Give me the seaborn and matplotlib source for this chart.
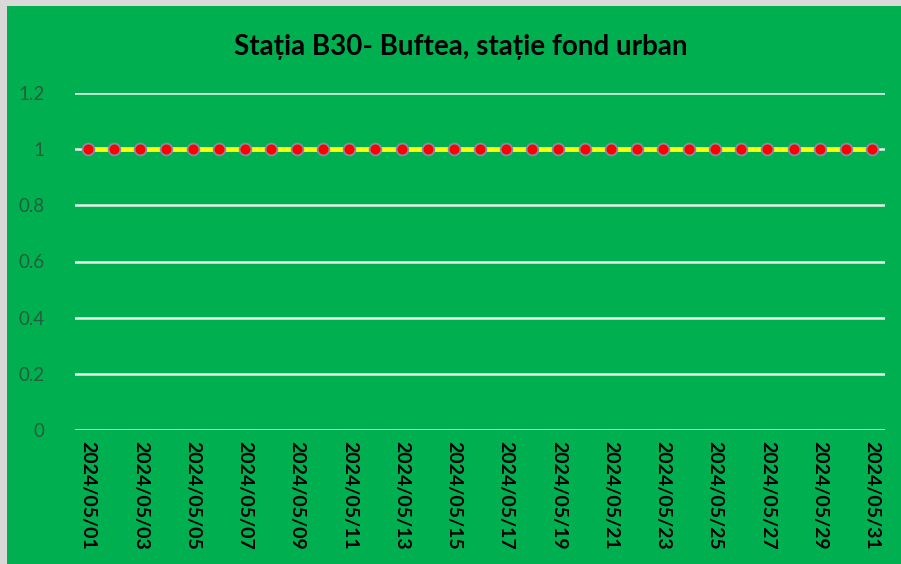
import pandas as pd
import matplotlib.pyplot as plt
import seaborn as sns

dates = [d.strftime('%Y/%m/%d') for d in pd.date_range('2024-05-01', '2024-05-31')]
values = [1, 1, 1, 1, 1, 1, 1, 1, 1, 1, 1, 1, 1, 1, 1, 1,
          1, 1, 1, 1, 1, 1, 1, 1, 1, 1, 1, 1, 1, 1, 1]
yticks = [0, 0.2, 0.4, 0.6, 0.8, 1, 1.2]
ytick_labels = ['0', '0.2', '0.4', '0.6', '0.8', '1', '1.2']

df = pd.DataFrame({'data': dates, 'valoare': values})
df['pos'] = range(len(df))

sns.set_style('white')
plt.rcParams['font.family'] = ['Lato', 'DejaVu Sans']

green = '#00B050'
grey = '#d9d9d9'
fig = plt.figure(figsize=(9.01, 5.64), dpi=100, facecolor=green)
# thin grey edge at top and left
fig.patches.append(plt.Rectangle((0, 0), 7 / 901, 1, transform=fig.transFigure,
                                 facecolor=grey, edgecolor='none'))
fig.patches.append(plt.Rectangle((0, 1 - 6 / 564), 1, 6 / 564, transform=fig.transFigure,
                                 facecolor=grey, edgecolor='none'))
ax = fig.add_axes([75 / 901, 1 - 430 / 564, 810 / 901, 337 / 564])
ax.set_facecolor(green)

for y in yticks:
    ax.axhline(y, color='#e8f5e8', lw=1.8, zorder=1)

sns.lineplot(data=df, x='pos', y='valoare', ax=ax, color='#FFFF00', lw=3.5,
             marker='o', markersize=8.5, markerfacecolor='#FF0000',
             markeredgecolor='#8a8aa8', markeredgewidth=1.3, zorder=3)

ax.set_xlim(-0.5, len(dates) - 0.5)
ax.set_ylim(0, 1.2)
ax.set_yticks(yticks)
ax.set_yticklabels(ytick_labels, fontsize=13.5, color='#245e3a')
ax.set_xticks(df['pos'][::2])
ax.set_xticklabels(df['data'][::2], rotation=-90, fontsize=14, fontweight='bold', color='black')
ax.tick_params(axis='y', length=0, pad=22)
ax.tick_params(axis='x', length=0, pad=8)
ax.set_xlabel('')
ax.set_ylabel('')
for s in ax.spines.values():
    s.set_visible(False)

fig.text(0.511, 0.917, 'Stația B30- Buftea, stație fond urban', ha='center', va='center',
         fontsize=20, fontweight='bold', color='black')

fig.savefig('out.png', dpi=100, facecolor=fig.get_facecolor())
